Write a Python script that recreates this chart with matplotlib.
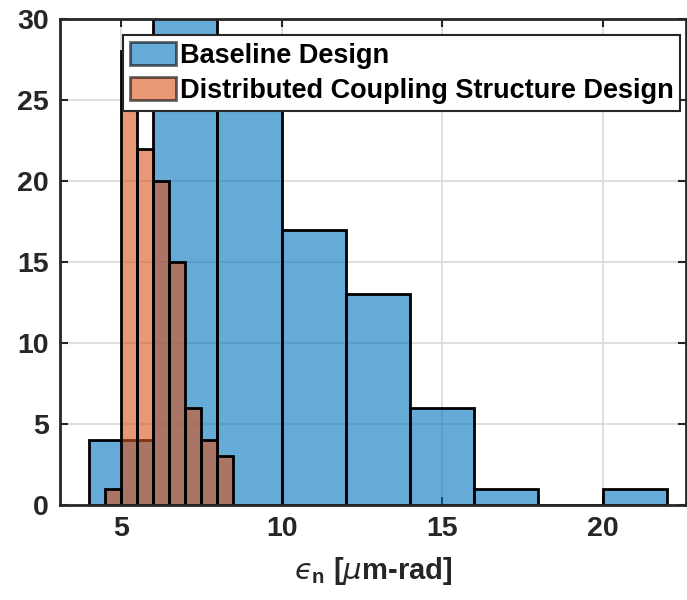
import numpy as np
import matplotlib.pyplot as plt
from matplotlib.patches import Patch

# histogram data (bin edges and counts)
base_edges = [4, 6, 8, 10, 12, 14, 16, 18, 20, 22]
base_counts = [4, 32, 28, 17, 13, 6, 1, 0, 1]

dist_edges = [4.5, 5.0, 5.5, 6.0, 6.5, 7.0, 7.5, 8.0, 8.5]
dist_counts = [1, 28, 22, 20, 15, 6, 4, 3]

plt.rcParams['font.family'] = ['Liberation Sans', 'DejaVu Sans']
plt.rcParams['font.weight'] = 'bold'
plt.rcParams['mathtext.fontset'] = 'custom'
plt.rcParams['mathtext.rm'] = 'Liberation Sans:weight=bold'
plt.rcParams['mathtext.it'] = 'DejaVu Sans:style=italic:weight=normal'
plt.rcParams['mathtext.bf'] = 'Liberation Sans:weight=bold'

fig = plt.figure(figsize=(6.87, 6.0), dpi=100)
ax = fig.add_axes([60 / 687, 95 / 600, 626 / 687, 486 / 600])

blue = (0, 0.447, 0.741)
orange = (0.85, 0.325, 0.098)

be = np.array(base_edges, dtype=float)
de = np.array(dist_edges, dtype=float)
ax.bar(be[:-1], base_counts, width=np.diff(be), align='edge', color=blue,
       alpha=0.6, edgecolor='none', zorder=2)
ax.bar(be[:-1], base_counts, width=np.diff(be), align='edge', fill=False,
       edgecolor='black', linewidth=2, zorder=3)
ax.bar(de[:-1], dist_counts, width=np.diff(de), align='edge', color=orange,
       alpha=0.6, edgecolor='none', zorder=4)
ax.bar(de[:-1], dist_counts, width=np.diff(de), align='edge', fill=False,
       edgecolor='black', linewidth=2, zorder=5)

ax.set_xlim(3.1, 22.6)
ax.set_ylim(0, 30)
ax.set_xticks([5, 10, 15, 20])
ax.set_yticks([0, 5, 10, 15, 20, 25, 30])
ax.grid(True, color='#d9d9d9', linewidth=1.2, zorder=0)
ax.set_axisbelow(True)
ax.tick_params(direction='in', length=6, width=1.5, labelsize=20.5, top=True, right=True,
               pad=8, colors='#262626')
for s in ax.spines.values():
    s.set_linewidth(2)
    s.set_color('#262626')
    s.set_zorder(10)

ax.set_xlabel('$\u03f5_\\mathbf{n}$ [$\\mu$m-rad]', fontsize=21, fontweight='bold',
              labelpad=9, color='#262626')

handles = [Patch(facecolor=blue, alpha=0.6, edgecolor='black', linewidth=2),
           Patch(facecolor=orange, alpha=0.6, edgecolor='black', linewidth=2)]
leg = ax.legend(handles, ['Baseline Design', 'Distributed Coupling Structure Design'],
                loc='upper left', bbox_to_anchor=(63 / 626, 0.967), fontsize=19.5,
                fancybox=False, framealpha=1, edgecolor='#262626',
                handlelength=1.7, handleheight=0.95, handletextpad=0.15,
                labelspacing=0.3, borderpad=0.25, borderaxespad=0)
leg.get_frame().set_linewidth(1.5)
leg.set_zorder(20)

plt.savefig('out.png', dpi=100)
